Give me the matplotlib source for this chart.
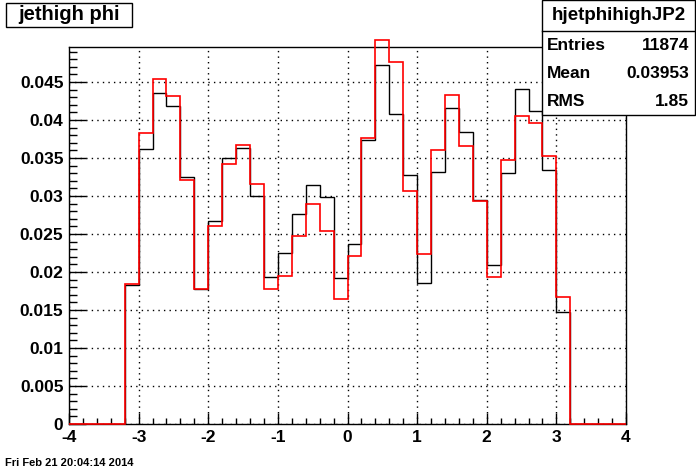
import numpy as np
import matplotlib
matplotlib.use("Agg")
import matplotlib.pyplot as plt
from matplotlib.ticker import MultipleLocator
from matplotlib.patches import Rectangle

# bin edges: 40 bins from -4 to 4, only -3.2..3.2 filled
edges = np.linspace(-4, 4, 41)

black_vals = [0.01826, 0.03621, 0.04354, 0.04183, 0.03248, 0.01773, 0.02669, 0.03499,
              0.03634, 0.03002, 0.01931, 0.02247, 0.02761, 0.03143, 0.02985, 0.01918,
              0.02366, 0.03740, 0.04727, 0.04078, 0.03275, 0.01852, 0.03314, 0.04157,
              0.03836, 0.02945, 0.02090, 0.03301, 0.04407, 0.04117, 0.03341, 0.01471]
red_vals = [0.01840, 0.03823, 0.04539, 0.04315, 0.03209, 0.01773, 0.02603, 0.03420,
            0.03670, 0.03156, 0.01773, 0.01944, 0.02471, 0.02897, 0.02533, 0.01642,
            0.02208, 0.03762, 0.05047, 0.04763, 0.03068, 0.02234, 0.03604, 0.04323,
            0.03656, 0.02932, 0.01931, 0.03472, 0.04052, 0.03960, 0.03525, 0.01668]

title = "jethigh phi"
stat_name = "hjetphihighJP2"
stat_rows = [("Entries", "11874"), ("Mean", "0.03953"), ("RMS", "1.85")]
datestamp = "Fri Feb 21 20:04:14 2014"

pad = [0.0] * 4
black = np.array(pad + black_vals + pad)
red = np.array(pad + red_vals + pad)

plt.rcParams['font.family'] = ['Liberation Sans', 'DejaVu Sans']
plt.rcParams['font.weight'] = 'bold'
plt.rcParams['axes.unicode_minus'] = False

fig = plt.figure(figsize=(6.96, 4.72), dpi=100)
ax = fig.add_axes([69 / 696, 48 / 472, 557 / 696, 377 / 472])

ax.stairs(black, edges, color='black', lw=1.0, zorder=3)
ax.stairs(red, edges, color='red', lw=1.2, zorder=4, clip_on=False)

ax.set_xlim(-4, 4)
ax.set_ylim(0, 0.0496)

ax.xaxis.set_major_locator(MultipleLocator(1))
ax.xaxis.set_minor_locator(MultipleLocator(0.2))
ax.yaxis.set_major_locator(MultipleLocator(0.005))
ax.yaxis.set_minor_locator(MultipleLocator(0.001))
ax.yaxis.set_major_formatter(plt.FuncFormatter(lambda v, p: ('%g' % round(v, 4))))

ax.tick_params(axis='x', which='major', direction='in', length=8, width=1, labelsize=12.5, pad=4)
ax.tick_params(axis='x', which='minor', direction='in', length=4, width=1)
ax.tick_params(axis='y', which='major', direction='in', length=12, width=1, labelsize=12.5, pad=4)
ax.tick_params(axis='y', which='minor', direction='in', length=6, width=1)
for lab in ax.get_xticklabels() + ax.get_yticklabels():
    lab.set_fontweight('bold')

ax.grid(True, which='major', color='black', linestyle=(0, (1, 3)), linewidth=1.0)
ax.set_axisbelow(True)
for s in ax.spines.values():
    s.set_linewidth(1.0)

# title box
fig.patches.append(Rectangle((6 / 696, 1 - 27 / 472), 126 / 696, 24 / 472,
                             transform=fig.transFigure, facecolor='white',
                             edgecolor='black', lw=1.0, zorder=5))
fig.text(69 / 696, 1 - 15 / 472, title, ha='center', va='center',
         fontsize=14.5, fontweight='bold', zorder=6)

# stats box
bx0, bx1, by0, by1 = 542, 695, 0, 115
fig.patches.append(Rectangle((bx0 / 696, 1 - by1 / 472), (bx1 - bx0) / 696, (by1 - by0) / 472,
                             transform=fig.transFigure, facecolor='white',
                             edgecolor='black', lw=1.0, zorder=5))
fig.add_artist(plt.Line2D([bx0 / 696, bx1 / 696], [1 - 31 / 472, 1 - 31 / 472],
                          transform=fig.transFigure, color='black', lw=1.0, zorder=6))
fig.text((bx0 + bx1) / 2 / 696, 1 - 16 / 472, stat_name, ha='center', va='center',
         fontsize=13.5, fontweight='bold', zorder=7)
for i, (k, v) in enumerate(stat_rows):
    yy = 1 - (45 + i * 28) / 472
    fig.text(547 / 696, yy, k, ha='left', va='center', fontsize=12.5, fontweight='bold', zorder=7)
    fig.text(689 / 696, yy, v, ha='right', va='center', fontsize=12.5, fontweight='bold', zorder=7)

fig.text(5 / 696, 1 - 463 / 472, datestamp, ha='left', va='center', fontsize=8, fontweight='bold')

fig.savefig('out.png', dpi=100)
